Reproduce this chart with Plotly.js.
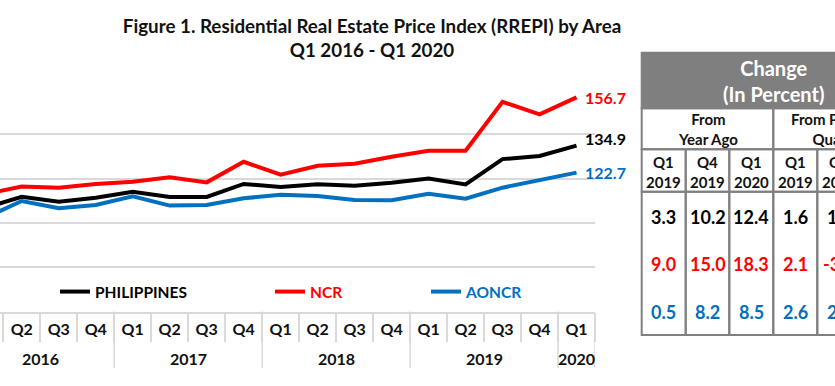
<!DOCTYPE html>
<html><head><meta charset="utf-8">
<script src="https://cdn.plot.ly/plotly-3.0.1.min.js"></script>
<style>
html,body{margin:0;padding:0;overflow:hidden;background:#fff;width:835px;height:386px}
#chart{position:absolute;left:-60px;top:0;width:1000px;height:386px}
</style>
</head><body><div id="chart"></div>
<script>
// ---- data ----
const quarters = ['Q1','Q2','Q3','Q4','Q1','Q2','Q3','Q4','Q1','Q2','Q3','Q4','Q1','Q2','Q3','Q4','Q1'];
const years    = ['2016','2016','2016','2016','2017','2017','2017','2017','2018','2018','2018','2018','2019','2019','2019','2019','2020'];
const philippines = [106.7,111.8,109.6,111.4,114.1,111.7,111.7,117.6,116.2,117.4,116.8,118.1,120.0,117.4,128.8,130.2,134.9];
const ncr         = [113.0,116.4,115.9,117.6,118.6,120.6,118.3,127.6,121.8,125.8,126.7,129.9,132.6,132.6,154.7,149.0,156.7];
const aoncr       = [102.2,109.9,106.6,108.1,112.0,107.8,108.1,111.1,112.7,112.1,110.3,110.2,113.1,110.9,115.9,119.1,122.7];
const seriesNames = ['PHILIPPINES','NCR','AONCR'];

const tableTitle = 'Change<br>(In Percent)';
const changeGroups = ['From<br>Year Ago','From Previous<br>Quarter'];
const changeColumns = ['Q1<br>2019','Q4<br>2019','Q1<br>2020','Q1<br>2019','Q4<br>2019','Q1<br>2020'];
const phChange    = [3.3,10.2,12.4,1.6,1.1,3.6];
const ncrChange   = [9.0,15.0,18.3,2.1,-3.7,5.2];
const aoncrChange = [0.5,8.2,8.5,2.6,2.8,3.0];

// ---- styling ----
const FONT = 'Lato, "Open Sans", sans-serif';
const colors = ['#000000','#FF0000','#0070C0'];
const TXT = '#111111';
const GRID = '#d9d9d9';
const TBORDER = '#808080';
const H = 386, W = 1000;
const py = px => (H - px) / H;           // page-pixel row -> paper y
const pxX = px => (px + 60) / W;         // page-pixel column -> paper x

const idx = quarters.map((_, i) => i);
const values = [philippines, ncr, aoncr];
const changes = [phChange, ncrChange, aoncrChange];

const traces = values.map((v, k) => ({
  type: 'scatter', mode: 'lines', x: idx, y: v, name: seriesNames[k],
  line: {color: colors[k], width: 4}, legend: k === 0 ? 'legend' : 'legend' + (k + 1),
  hoverinfo: 'x+y'
}));

const shapes = [];
const annotations = [];

// year dividers and labels
const uniqYears = [...new Set(years)];
const bounds = [-0.5];
years.forEach((y, i) => { if (i > 0 && y !== years[i - 1]) bounds.push(i - 0.5); });
bounds.push(years.length - 0.5);
bounds.forEach(b => shapes.push({
  type: 'line', xref: 'x', yref: 'paper', x0: b, x1: b, y0: py(311.5), y1: py(368),
  line: {color: GRID, width: 1.5}
}));
uniqYears.forEach(yr => {
  const ii = idx.filter(i => years[i] === yr);
  annotations.push({xref: 'x', yref: 'paper', x: (ii[0] + ii[ii.length - 1]) / 2, y: py(358.3),
          text: yr, showarrow: false, yanchor: 'middle',
          font: {family: FONT, size: 16, weight: 'bold', color: TXT}});
});
// end-of-line value labels
const labelShift = [7.5, 0, 0];
values.forEach((v, k) => {
  const last = v.length - 1;
  annotations.push({xref: 'x', yref: 'y', x: idx[last], y: v[last], text: v[last].toFixed(1),
    showarrow: false, xanchor: 'left', yanchor: 'middle', xshift: 6, yshift: labelShift[k],
    font: {family: FONT, size: 16, weight: 'bold', color: colors[k]}});
});

// ---- change table (drawn with shapes + annotations) ----
const colEdges = [641.7, 685.7, 729.3, 773.3, 817.3, 861.3, 905.3];
const rowEdges = [52.7, 108.3, 149.3, 191.7, 335];
const valueRows = [217.3, 264, 311.7];
const cell = (x0, x1, y0, y1, fill) => shapes.push({type: 'rect', xref: 'paper', yref: 'paper',
  x0: pxX(x0), x1: pxX(x1), y0: py(y1), y1: py(y0), fillcolor: fill, layer: 'above',
  line: {color: TBORDER, width: 2}});
const tText = (xc, yc, text, size, color) => annotations.push({xref: 'paper', yref: 'paper',
  x: pxX(xc), y: py(yc), text: text, showarrow: false, xanchor: 'center', yanchor: 'middle',
  font: {family: FONT, size: size, weight: 'bold', color: color}});

const nCols = changeColumns.length;
cell(colEdges[0], colEdges[nCols], rowEdges[0], rowEdges[1], '#7f7f7f');
tText((colEdges[0] + colEdges[nCols]) / 2, 81, tableTitle, 20, '#ffffff');
const perGroup = nCols / changeGroups.length;
changeGroups.forEach((g, gi) => {
  const a = colEdges[gi * perGroup], b = colEdges[(gi + 1) * perGroup];
  cell(a, b, rowEdges[1], rowEdges[2], 'rgba(0,0,0,0)');
  tText((a + b) / 2, 129.3, g, 15, TXT);
});
changeColumns.forEach((c, j) => {
  const a = colEdges[j], b = colEdges[j + 1];
  cell(a, b, rowEdges[2], rowEdges[3], 'rgba(0,0,0,0)');
  tText((a + b) / 2, 171.7, c, 15, TXT);
  cell(a, b, rowEdges[3], rowEdges[4], 'rgba(0,0,0,0)');
  changes.forEach((arr, k) => tText((a + b) / 2, valueRows[k], arr[j].toFixed(1), 18, colors[k]));
});

const legendBase = {orientation: 'h', yanchor: 'middle', xanchor: 'left', y: py(292),
  bgcolor: 'rgba(0,0,0,0)', borderwidth: 0, itemclick: false, itemdoubleclick: false};
const legendX = [pxX(95 - 40), pxX(310 - 40), pxX(466 - 40)];
const legFont = k => ({family: FONT, size: 15.5, weight: 'bold', color: colors[k]});

const layout = {
  width: W, height: H, margin: {l: 0, r: 0, t: 0, b: 0, pad: 0},
  paper_bgcolor: '#ffffff', plot_bgcolor: '#ffffff', showlegend: true,
  title: {text: 'Figure 1. Residential Real Estate Price Index (RREPI) by Area<br>Q1 2016 - Q1 2020',
          x: pxX(372), xref: 'paper', xanchor: 'center', yref: 'container', y: py(33), yanchor: 'top',
          font: {family: FONT, size: 18.8, weight: 'bold', color: TXT}},
  xaxis: {domain: [pxX(-33.7), pxX(595)], range: [-0.5, quarters.length - 0.5], type: 'linear',
          tickmode: 'array', tickvals: idx, ticktext: quarters, ticks: '', showgrid: false,
          zeroline: false, showline: true, linecolor: GRID, linewidth: 1.5, ticklabelstandoff: 3,
          tickfont: {family: FONT, size: 16, weight: 'bold', color: TXT},
          minor: {tick0: 0.5, dtick: 1, ticks: 'outside', ticklen: 29, tickcolor: GRID, tickwidth: 1.5, showgrid: false},
          fixedrange: true},
  yaxis: {domain: [py(311.5), py(90)], range: [60, 160], dtick: 20, showgrid: true, gridcolor: GRID,
          gridwidth: 1.5, zeroline: false, showline: false, showticklabels: false, ticks: '', fixedrange: true},
  legend:  Object.assign({}, legendBase, {x: legendX[0], font: legFont(0)}),
  legend2: Object.assign({}, legendBase, {x: legendX[1], font: legFont(1)}),
  legend3: Object.assign({}, legendBase, {x: legendX[2], font: legFont(2)}),
  shapes: shapes, annotations: annotations
};

Plotly.newPlot('chart', traces, layout, {displayModeBar: false});
</script>
</body></html>
